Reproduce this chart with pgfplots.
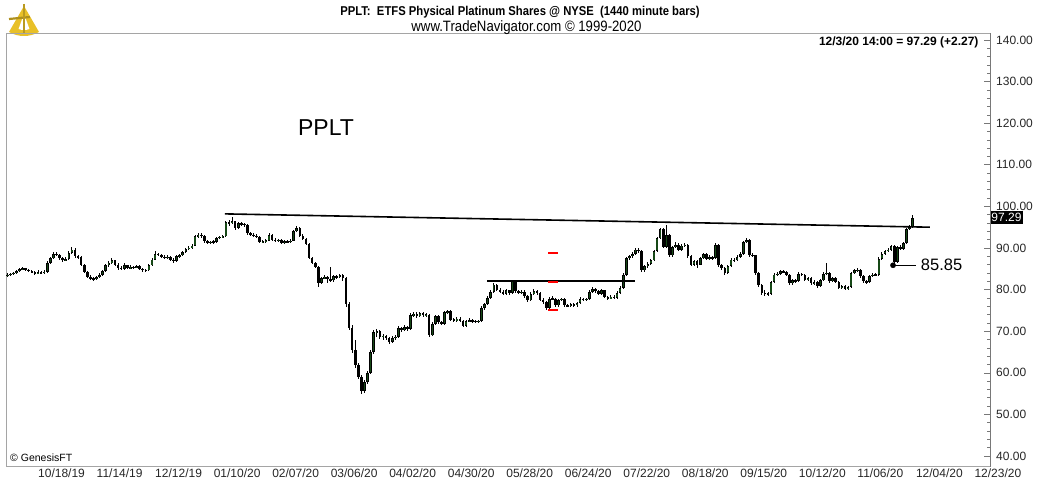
\documentclass[border=0pt]{standalone}
\usepackage{fontspec}
\setmainfont{Liberation Sans}
\newfontfamily\narrowfont{Liberation Sans}[FakeStretch=0.88]
\usepackage{pgfplots}
\usepackage{pgfplotstable}
\pgfplotsset{compat=1.18}
\definecolor{upgreen}{RGB}{22,72,22}
\definecolor{framegray}{RGB}{165,165,165}
\definecolor{axisgray}{RGB}{120,120,120}
\definecolor{gold}{RGB}{232,192,40}

\pgfplotstableread{
i o h l c
-10 83.4 84.0 83.1 83.6
-9 83.6 84.1 83.3 83.8
-8 83.8 84.3 83.6 84.0
-7 84.0 84.7 83.8 84.4
-6 84.4 85.3 84.2 84.9
-5 84.9 85.5 84.6 85.1
-4 85.1 85.3 84.4 84.7
-3 84.7 85.0 84.2 84.5
-2 84.5 84.8 83.9 84.2
-1 84.2 84.4 83.6 83.9
0 83.9 84.6 83.7 84.2
1 84.2 84.5 83.7 84.0
2 84.0 84.6 83.8 84.3
3 84.3 86.8 84.1 86.4
4 86.4 87.9 86.2 87.5
5 87.5 89.0 87.3 88.6
6 88.6 89.1 88.0 88.3
7 88.3 88.6 87.2 87.5
8 87.5 87.8 86.7 87.0
9 87.0 87.8 86.8 87.3
10 87.3 89.2 87.1 88.8
11 88.8 90.3 88.5 89.6
12 89.6 89.9 87.7 88.0
13 88.0 88.4 87.4 87.8
14 87.8 88.0 85.7 86.0
15 86.0 86.2 84.0 84.3
16 84.3 84.5 82.7 83.0
17 83.0 83.4 82.2 82.6
18 82.6 83.1 82.1 82.5
19 82.5 83.3 82.3 83.0
20 83.0 83.9 82.8 83.5
21 83.5 84.7 83.3 84.4
22 84.4 86.1 84.2 85.8
23 85.8 86.9 85.5 86.5
24 86.5 87.6 86.2 87.0
25 87.0 87.2 85.7 86.0
26 86.0 86.3 84.8 85.2
27 85.2 85.6 84.6 85.0
28 85.0 86.4 84.8 85.8
29 85.8 86.0 85.0 85.2
30 85.2 85.8 84.9 85.4
31 85.4 85.7 85.0 85.3
32 85.3 86.0 85.1 85.6
33 85.6 85.8 84.8 85.0
34 85.0 85.2 84.3 84.7
35 84.7 85.0 84.3 84.6
36 84.6 86.1 84.4 85.8
37 85.8 87.5 85.6 87.2
38 87.2 89.2 87.0 88.5
39 88.5 88.9 88.0 88.4
40 88.4 88.6 87.5 87.9
41 87.9 88.2 87.3 87.7
42 87.7 88.2 87.4 87.8
43 87.8 88.0 86.9 87.2
44 87.2 87.5 86.4 86.8
45 86.8 88.3 86.6 88.0
46 88.0 88.5 87.6 88.2
47 88.2 89.3 88.0 89.0
48 89.0 90.1 88.8 89.8
49 89.8 90.4 89.4 90.0
50 90.0 91.0 89.7 90.6
51 90.6 93.2 90.4 92.8
52 92.8 93.6 92.5 93.2
53 93.2 93.5 92.4 92.9
54 92.9 93.1 91.3 91.6
55 91.6 91.9 90.9 91.2
56 91.2 91.8 90.9 91.5
57 91.5 91.9 91.0 91.4
58 91.4 92.7 91.2 92.4
59 92.4 93.0 92.1 92.7
60 92.7 93.1 92.3 92.8
61 92.8 96.6 92.6 96.2
62 96.2 96.8 95.4 96.0
63 96.0 97.4 95.7 96.4
64 96.4 96.6 94.3 94.8
65 94.8 96.3 94.5 95.9
66 95.9 96.2 95.3 95.8
67 95.8 96.0 95.0 95.5
68 95.5 95.7 93.2 93.5
69 93.5 93.8 92.9 93.2
70 93.2 93.6 92.7 93.0
71 93.0 93.3 92.3 92.6
72 92.6 92.8 91.1 91.4
73 91.4 92.0 91.1 91.6
74 91.6 92.1 91.3 91.8
75 91.8 93.6 91.6 93.1
76 93.1 93.3 91.7 92.0
77 92.0 92.4 91.5 91.8
78 91.8 92.2 91.4 91.9
79 91.9 92.1 91.0 91.3
80 91.3 91.9 91.0 91.6
81 91.6 91.9 91.1 91.4
82 91.4 92.1 91.2 91.8
83 91.8 94.3 91.6 94.0
84 94.0 95.4 93.8 94.8
85 94.8 95.0 92.7 93.0
86 93.0 93.3 91.9 92.2
87 92.2 92.4 90.7 91.0
88 91.0 91.2 87.3 87.6
89 87.6 87.9 86.1 86.4
90 86.4 86.7 85.2 85.5
91 85.5 85.7 80.6 81.6
92 81.6 83.1 81.3 82.8
93 82.8 83.4 82.5 83.0
94 83.0 83.2 81.6 82.5
95 82.5 85.5 81.9 82.2
96 82.2 83.5 81.9 83.2
97 83.2 83.6 82.6 83.0
98 83.0 83.8 82.7 83.4
99 83.4 83.7 82.0 82.8
100 82.8 83.0 75.9 76.5
101 76.5 77.0 70.2 70.8
102 70.8 71.6 64.8 65.5
103 65.5 68.0 61.2 61.8
104 61.8 62.4 58.4 59.0
105 59.0 59.4 54.9 55.6
106 55.6 58.3 55.2 57.8
107 57.8 60.5 57.4 60.0
108 60.0 65.6 59.7 65.0
109 65.0 70.4 64.6 69.8
110 69.8 70.6 68.7 70.0
111 70.0 70.3 68.2 68.6
112 68.6 69.3 68.0 68.9
113 68.9 69.2 67.8 68.3
114 68.3 68.6 66.9 67.5
115 67.5 68.8 67.2 68.4
116 68.4 69.0 68.0 68.6
117 68.6 71.2 68.4 70.8
118 70.8 71.1 69.9 70.2
119 70.2 71.4 70.0 71.0
120 71.0 71.3 70.1 70.5
121 70.5 74.4 70.3 73.8
122 73.8 74.7 73.5 74.2
123 74.2 74.5 73.2 73.6
124 73.6 74.6 73.3 74.3
125 74.3 74.5 73.4 73.8
126 73.8 74.3 73.5 74.0
127 74.0 74.1 68.5 69.0
128 69.0 72.2 68.8 71.8
129 71.8 74.0 71.6 73.6
130 73.6 73.8 71.8 72.2
131 72.2 72.5 71.4 71.8
132 71.8 74.9 71.6 74.5
133 74.5 75.2 74.2 74.8
134 74.8 75.0 72.5 72.8
135 72.8 73.1 72.2 72.6
136 72.6 73.4 72.3 73.0
137 73.0 73.3 72.2 72.5
138 72.5 72.7 70.9 71.2
139 71.2 72.8 71.0 72.4
140 72.4 73.1 72.1 72.7
141 72.7 72.9 72.0 72.4
142 72.4 72.7 72.0 72.3
143 72.3 72.8 72.0 72.5
144 72.5 76.0 72.3 75.6
145 75.6 76.9 75.2 76.5
146 76.5 78.4 76.3 78.0
147 78.0 79.8 77.8 79.4
148 79.4 81.7 79.2 81.2
149 81.2 81.4 79.6 80.0
150 80.0 80.4 79.1 79.5
151 79.5 79.8 78.6 79.0
152 79.0 80.2 78.8 79.8
153 79.8 80.0 78.8 79.2
154 79.2 82.4 79.0 82.0
155 82.0 82.2 79.2 79.6
156 79.6 80.0 78.9 79.3
157 79.3 79.9 79.0 79.5
158 79.5 79.8 78.1 78.4
159 78.4 78.7 77.0 77.4
160 77.4 79.4 77.2 79.0
161 79.0 80.1 78.8 79.6
162 79.6 79.9 78.8 79.2
163 79.2 79.4 77.3 77.6
164 77.6 77.9 76.6 77.0
165 77.0 77.2 75.0 75.6
166 75.6 78.2 75.4 77.8
167 77.8 78.5 77.5 77.8
168 77.8 78.0 75.8 76.2
169 76.2 77.8 75.9 77.5
170 77.5 78.1 77.2 77.8
171 77.8 78.0 75.9 76.2
172 76.2 76.5 75.7 76.0
173 76.0 76.8 75.8 76.5
174 76.5 76.7 75.8 76.2
175 76.2 77.1 75.9 76.8
176 76.8 78.2 76.6 77.8
177 77.8 78.1 77.2 77.5
178 77.5 78.1 77.2 77.8
179 77.8 79.9 77.6 79.5
180 79.5 80.6 79.3 80.2
181 80.2 80.5 79.3 79.6
182 79.6 79.9 78.7 79.0
183 79.0 80.1 78.8 79.8
184 79.8 80.0 77.9 78.2
185 78.2 78.5 77.6 77.9
186 77.9 78.6 77.7 78.3
187 78.3 78.6 77.7 78.0
188 78.0 79.6 77.8 79.2
189 79.2 80.8 79.0 80.4
190 80.4 83.9 80.2 83.5
191 83.5 87.9 83.3 87.5
192 87.5 88.4 87.2 88.0
193 88.0 89.0 87.7 88.6
194 88.6 90.1 88.3 89.6
195 89.6 89.9 88.8 89.2
196 89.2 89.4 84.2 84.6
197 84.6 85.9 84.3 85.6
198 85.6 86.6 85.3 86.2
199 86.2 87.3 85.9 87.0
200 87.0 89.6 86.8 89.2
201 89.2 92.7 89.0 92.3
202 92.3 94.9 92.1 94.5
203 94.5 94.7 89.9 90.3
204 90.3 95.5 90.1 93.2
205 93.2 93.4 87.8 88.2
206 88.2 90.6 87.9 90.3
207 90.3 91.4 90.0 90.8
208 90.8 91.1 89.2 89.5
209 89.5 91.0 89.3 90.6
210 90.6 91.2 90.2 90.8
211 90.8 91.0 87.7 88.0
212 88.0 88.3 85.6 86.0
213 86.0 87.2 85.7 86.8
214 86.8 87.1 85.3 86.0
215 86.0 87.9 85.8 87.5
216 87.5 88.9 87.3 88.5
217 88.5 88.7 87.0 87.4
218 87.4 88.3 87.1 87.8
219 87.8 88.1 87.2 87.6
220 87.6 91.3 87.4 90.8
221 90.8 91.0 85.5 85.8
222 85.8 86.1 84.8 85.2
223 85.2 85.5 83.5 84.0
224 84.0 85.9 83.8 85.6
225 85.6 87.6 85.4 87.2
226 87.2 87.5 86.6 87.0
227 87.0 88.3 86.8 87.9
228 87.9 89.0 87.6 88.6
229 88.6 91.8 88.4 91.4
230 91.4 92.5 91.1 92.0
231 92.0 92.2 87.9 88.3
232 88.3 88.8 87.8 88.2
233 88.2 88.4 83.6 84.0
234 84.0 84.2 80.6 81.0
235 81.0 81.3 78.8 79.2
236 79.2 79.8 78.5 79.0
237 79.0 79.4 78.4 78.9
238 78.9 82.1 78.7 81.8
239 81.8 83.9 81.6 83.6
240 83.6 84.2 83.2 83.8
241 83.8 84.8 83.5 84.5
242 84.5 84.8 83.9 84.2
243 84.2 84.4 83.2 83.5
244 83.5 83.7 81.2 81.5
245 81.5 82.5 81.2 82.2
246 82.2 82.5 81.7 82.0
247 82.0 84.2 81.8 83.8
248 83.8 84.1 83.2 83.6
249 83.6 83.8 82.0 82.3
250 82.3 83.1 82.0 82.8
251 82.8 83.0 81.2 81.5
252 81.5 82.2 81.2 81.8
253 81.8 82.0 80.5 80.8
254 80.8 82.5 80.6 82.2
255 82.2 84.2 82.0 83.8
256 83.8 86.4 83.6 84.0
257 84.0 84.2 81.7 82.0
258 82.0 83.1 81.8 82.8
259 82.8 83.0 81.6 81.9
260 81.9 82.1 80.1 80.4
261 80.4 81.1 80.1 80.8
262 80.8 81.0 79.8 80.2
263 80.2 80.9 79.9 80.6
264 80.6 84.3 80.4 84.0
265 84.0 85.0 83.8 84.6
266 84.6 85.2 84.3 84.8
267 84.8 85.0 82.9 83.2
268 83.2 83.5 81.7 82.0
269 82.0 82.3 81.4 81.8
270 81.8 83.5 81.6 83.2
271 83.2 84.0 83.0 83.6
272 83.6 84.0 83.2 83.5
273 83.5 87.8 83.3 87.4
274 87.4 89.0 87.2 88.6
275 88.6 89.6 88.3 89.3
276 89.3 90.0 89.0 89.6
277 89.6 90.8 89.3 90.5
278 90.5 90.7 85.85 86.6
279 86.6 90.6 86.4 90.3
280 90.3 90.8 89.5 89.8
281 89.8 91.5 89.6 91.2
282 91.2 94.9 91.0 94.6
283 94.6 95.6 94.3 95.02
284 95.02 97.9 94.8 97.29
}\candles

\begin{document}
\begin{tikzpicture}
\useasboundingbox (-6pt,-19pt) rectangle (1033pt,466pt);
% logo (sextant-like)
\fill[gold] (18pt,460pt) -- ++(240:30pt) arc[start angle=240, end angle=300, radius=30pt] -- cycle;
\fill[white] (18pt,452pt) -- ++(250:16pt) arc[start angle=250, end angle=290, radius=16pt] -- cycle;
\draw[gold!75!black, line width=2.2pt] (3pt,447pt) -- (24pt,449pt);
\draw[gold!80!black, line width=1.2pt] (18pt,462pt) -- (18pt,432pt);
\begin{axis}[
  at={(0pt,0pt)}, anchor=south west,
  scale only axis, width=984pt, height=433pt,
  xmin=-10.39, xmax=309.09, ymin=37.6, ymax=141.68,
  axis line style={framegray, line width=0.8pt},
  clip mode=individual,
  xtick={0,19,...,304},
  xticklabels={10/18/19,11/14/19,12/12/19,01/10/20,02/07/20,03/06/20,04/02/20,04/30/20,05/28/20,06/24/20,07/22/20,08/18/20,09/15/20,10/12/20,11/06/20,12/04/20,12/23/20},
  xtick style={draw=none},
  xticklabel style={anchor=north west, inner sep=0pt, yshift=-3pt, font=\fontsize{12}{14}\selectfont, text=black!85},
  ytick={40,50,...,140},
  minor y tick num=4,
  ytick pos=right, yticklabel pos=right,
  tick align=inside,
  major tick length=6pt, minor tick length=3pt,
  ytick style={axisgray, line width=0.6pt},
  yticklabel style={anchor=west, inner sep=0pt, xshift=6pt, font=\fontsize{12}{14}\selectfont, text=black!85,
     /pgf/number format/.cd, fixed, fixed zerofill, precision=2, assume math mode=true},
]
% wicks
\addplot[draw=none, mark=none, forget plot,
  error bars/.cd, y dir=both, y explicit, error mark=none,
  error bar style={draw=black, line width=0.9pt}]
  table[x=i, y expr={0.5*(\thisrow{h}+\thisrow{l})}, y error expr={0.5*(\thisrow{h}-\thisrow{l})}]{\candles};
% bodies (black outline / down candles)
\addplot[draw=none, mark=none, forget plot,
  error bars/.cd, y dir=both, y explicit, error mark=none,
  error bar style={draw=black, line width=2.6pt}]
  table[x=i, y expr={0.5*(\thisrow{o}+\thisrow{c})}, y error expr={max(0.5*abs(\thisrow{c}-\thisrow{o}),0.13)}]{\candles};
% up candle fill
\addplot[draw=none, mark=none, forget plot, restrict y to domain=0:500,
  error bars/.cd, y dir=both, y explicit, error mark=none,
  error bar style={draw=upgreen, line width=1.3pt}]
  table[x=i, y expr={\thisrow{c}>\thisrow{o} ? 0.5*(\thisrow{o}+\thisrow{c}) : -1000}, y error expr={max(0.5*abs(\thisrow{c}-\thisrow{o})-0.2,0.02)}]{\candles};
% trend lines
\addplot[black, line width=1.6pt, forget plot] coordinates {(60.7,98.2) (289.6,95.0)};
\addplot[black, line width=1.6pt, forget plot] coordinates {(145.8,82.07) (193.8,82.07)};
\addplot[red, line width=1.5pt, forget plot] coordinates {(165.6,88.8) (168.8,88.8)};
\addplot[red, line width=1.5pt, forget plot] coordinates {(165.6,81.8) (168.8,81.8)};
\addplot[red, line width=1.5pt, forget plot] coordinates {(165.6,75.1) (168.8,75.1)};
\addplot[black, line width=0.8pt, forget plot] coordinates {(277.6,85.85) (284.9,85.85)};
\addplot[only marks, mark=*, mark size=2.6pt, black, forget plot] coordinates {(277.6,85.85)};
\node[anchor=west, inner sep=0pt, font=\fontsize{16.5}{18}\selectfont] at (axis cs:286.6,85.85) {85.85};
\node[anchor=west, fill=black, text=white, inner sep=1.2pt, minimum height=12.5pt, font=\fontsize{12}{13}\selectfont] at (axis cs:309.09,97.29) {97.29};
\end{axis}
\draw[axisgray, line width=0.8pt] (984pt,-1pt) -- (984pt,433pt);
\node[font=\narrowfont\bfseries\fontsize{12.8}{14}\selectfont] at (514pt,454pt) {PPLT:~~ETFS Physical Platinum Shares @ NYSE~~(1440 minute bars)};
\node[font=\narrowfont\fontsize{15}{17}\selectfont] at (520.5pt,438pt) {www.TradeNavigator.com © 1999-2020};
\node[anchor=east, font=\bfseries\fontsize{12}{14}\selectfont] at (976pt,424pt) {12/3/20 14:00 = 97.29 (+2.27)};
\node[font=\fontsize{23}{26}\selectfont] at (320pt,338pt) {PPLT};
\node[anchor=west, inner sep=0pt, font=\fontsize{10.5}{12}\selectfont] at (4pt,8pt) {© GenesisFT};
\end{tikzpicture}
\end{document}
